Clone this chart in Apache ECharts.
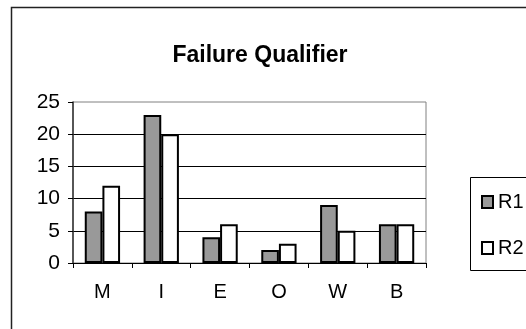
<!DOCTYPE html>
<html>
<head>
<meta charset="utf-8">
<script src="https://cdn.jsdelivr.net/npm/echarts@6/dist/echarts.min.js"></script>
<style>
  html, body { margin: 0; padding: 0; background: #fff; }
  #chart { width: 526px; height: 329px; }
</style>
</head>
<body>
<div id="chart"></div>
<script>
// Failure counts per qualifier code, two runs
const categories = ['M', 'I', 'E', 'O', 'W', 'B'];
const r1Values = [8, 23, 4, 2, 9, 6];
const r2Values = [12, 20, 6, 3, 5, 6];
const yTicks = [0, 5, 10, 15, 20, 25];

const FONT = 'Arial, "Liberation Sans", sans-serif';

const chart = echarts.init(document.getElementById('chart'), null, { renderer: 'canvas' });

chart.setOption({
  backgroundColor: '#ffffff',
  animation: false,
  title: {
    text: 'Failure Qualifier',
    left: 255,
    top: 39,
    textAlign: 'center',
    textStyle: { fontFamily: FONT, fontSize: 23, fontWeight: 'bold', color: '#000' }
  },
  graphic: [
    {
      type: 'rect',
      shape: { x: 11.5, y: 7.5, width: 600, height: 400 },
      style: { fill: 'none', stroke: '#222', lineWidth: 1.5 },
      silent: true,
      z: -1
    },
    {
      type: 'rect',
      shape: { x: 470.5, y: 177.5, width: 100, height: 93 },
      style: { fill: '#fff', stroke: '#000', lineWidth: 1 },
      silent: true,
      z: 0
    }
  ],
  legend: {
    orient: 'vertical',
    left: 481,
    top: 192,
    padding: 0,
    itemWidth: 11,
    itemHeight: 12,
    itemGap: 26,
    icon: 'rect',
    textStyle: { fontFamily: FONT, fontSize: 20, color: '#000', padding: [0, 0, 0, 0] },
    data: ['R1', 'R2'],
    z: 5
  },
  grid: {
    left: 73,
    right: 100,
    top: 102,
    bottom: 66,
    show: true,
    borderColor: '#808080',
    borderWidth: 1,
    backgroundColor: 'transparent'
  },
  xAxis: {
    type: 'category',
    data: categories,
    axisLine: { lineStyle: { color: '#000', width: 1 } },
    axisTick: { show: true, length: 5, lineStyle: { color: '#000' } },
    axisLabel: { fontFamily: FONT, fontSize: 20, color: '#000', margin: 19 }
  },
  yAxis: {
    type: 'value',
    min: yTicks[0],
    max: yTicks[yTicks.length - 1],
    interval: 5,
    axisLine: { show: true, lineStyle: { color: '#333', width: 1.5 } },
    axisTick: { show: true, length: 5, lineStyle: { color: '#000' } },
    axisLabel: { fontFamily: FONT, fontSize: 21, color: '#000', margin: 13 },
    splitLine: { show: true, showMaxLine: false, lineStyle: { color: '#000', width: 1 } }
  },
  series: [
    {
      name: 'R1',
      type: 'bar',
      data: r1Values,
      barGap: '0%',
      barCategoryGap: '40%',
      itemStyle: { color: '#999999', borderColor: '#000', borderWidth: 2 }
    },
    {
      name: 'R2',
      type: 'bar',
      data: r2Values,
      itemStyle: { color: '#ffffff', borderColor: '#000', borderWidth: 2 }
    }
  ]
});
</script>
</body>
</html>
